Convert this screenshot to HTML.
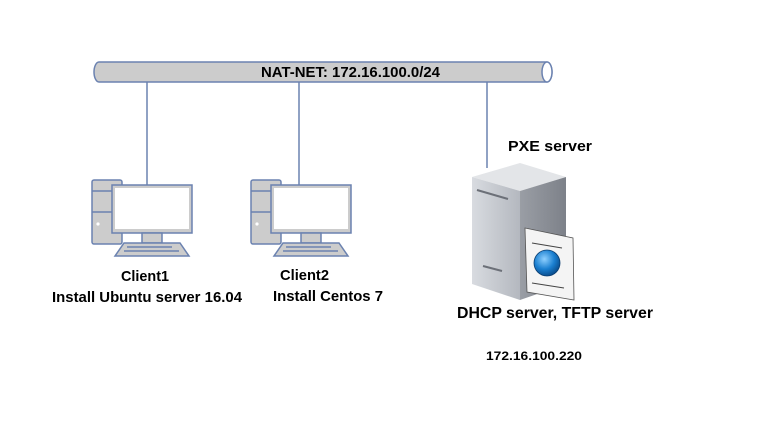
<!DOCTYPE html>
<html><head><style>
body{margin:0;background:#fff;}
svg text{font-family:"Liberation Sans",Arial,sans-serif;font-weight:bold;fill:#000;}
</style></head><body>
<svg width="775" height="427" viewBox="0 0 775 427" xmlns="http://www.w3.org/2000/svg">
<defs>
<linearGradient id="sf" x1="0" y1="0" x2="1" y2="0"><stop offset="0" stop-color="#d8dbe0"/><stop offset="1" stop-color="#b4b8bf"/></linearGradient>
<linearGradient id="ss" x1="0" y1="0" x2="1" y2="0"><stop offset="0" stop-color="#9a9ea5"/><stop offset="1" stop-color="#7d8189"/></linearGradient>
<radialGradient id="ball" cx="0.4" cy="0.35" r="0.65"><stop offset="0" stop-color="#8fd0ff"/><stop offset="0.6" stop-color="#1a7fd0"/><stop offset="1" stop-color="#0a4f90"/></radialGradient>
<g id="pc">
<rect x="0" y="0" width="30" height="64" rx="2" fill="#cccccc" stroke="#6b82b0" stroke-width="1.5"/>
<line x1="0" y1="11" x2="30" y2="11" stroke="#6b82b0" stroke-width="1.5"/>
<line x1="0" y1="32" x2="30" y2="32" stroke="#6b82b0" stroke-width="1.5"/>
<circle cx="6" cy="44" r="1.6" fill="#fff"/>
<rect x="20" y="5" width="80" height="48" fill="#cccccc" stroke="#6b82b0" stroke-width="1.5"/>
<rect x="23" y="8" width="74" height="41" fill="#fff"/>
<rect x="50" y="53" width="20" height="10" fill="#cccccc" stroke="#6b82b0" stroke-width="1.5"/>
<polygon points="32,63 88,63 97,76 23,76" fill="#cccccc" stroke="#6b82b0" stroke-width="1.5"/>
<line x1="35" y1="67" x2="80" y2="67" stroke="#6b82b0" stroke-width="1.5"/>
<line x1="32" y1="71" x2="87" y2="71" stroke="#6b82b0" stroke-width="1.5"/>
</g>
</defs>
<path d="M99,62 L547,62 A5,10 0 0 1 547,82 L99,82 A5,10 0 0 1 99,62 Z" fill="#cccccc" stroke="#6b82b0" stroke-width="1.5"/>
<ellipse cx="547" cy="72" rx="5" ry="10" fill="#fff" stroke="#6b82b0" stroke-width="1.5"/>
<text x="261" y="77" font-size="15" textLength="179" lengthAdjust="spacingAndGlyphs">NAT-NET: 172.16.100.0/24</text>
<line x1="147" y1="82" x2="147" y2="186" stroke="#6b82b0" stroke-width="1.5"/>
<line x1="299" y1="82" x2="299" y2="186" stroke="#6b82b0" stroke-width="1.5"/>
<line x1="487" y1="82" x2="487" y2="168" stroke="#6b82b0" stroke-width="1.5"/>
<use href="#pc" x="92" y="180"/>
<use href="#pc" x="251" y="180"/>
<polygon points="472,177 520,163 566,177 520,191" fill="#e3e5e8"/>
<polygon points="472,177 520,191 520,300 472,284" fill="url(#sf)"/>
<polygon points="520,191 566,177 566,284 520,300" fill="url(#ss)"/>
<line x1="477" y1="190" x2="508" y2="199" stroke="#6c7078" stroke-width="2"/>
<line x1="483" y1="266" x2="502" y2="271" stroke="#6c7078" stroke-width="2"/>
<polygon points="525,228 573,238 574,300 527,292" fill="#f4f4f4" stroke="#555" stroke-width="0.8"/>
<line x1="532" y1="243" x2="562" y2="248" stroke="#444"/>
<line x1="532" y1="283" x2="564" y2="288" stroke="#444"/>
<circle cx="547" cy="263" r="13" fill="url(#ball)" stroke="#0a3d70" stroke-width="0.8"/>
<text x="508" y="151" font-size="15" textLength="84" lengthAdjust="spacingAndGlyphs">PXE server</text>
<text x="121" y="281" font-size="15" textLength="48" lengthAdjust="spacingAndGlyphs">Client1</text>
<text x="52" y="302" font-size="15" textLength="190" lengthAdjust="spacingAndGlyphs">Install Ubuntu server 16.04</text>
<text x="280" y="280" font-size="15" textLength="49" lengthAdjust="spacingAndGlyphs">Client2</text>
<text x="273" y="301" font-size="15" textLength="110" lengthAdjust="spacingAndGlyphs">Install Centos 7</text>
<text x="457" y="318" font-size="16" textLength="196" lengthAdjust="spacingAndGlyphs">DHCP server, TFTP server</text>
<text x="486" y="360" font-size="12" textLength="96" lengthAdjust="spacingAndGlyphs">172.16.100.220</text>
</svg>
</body></html>
